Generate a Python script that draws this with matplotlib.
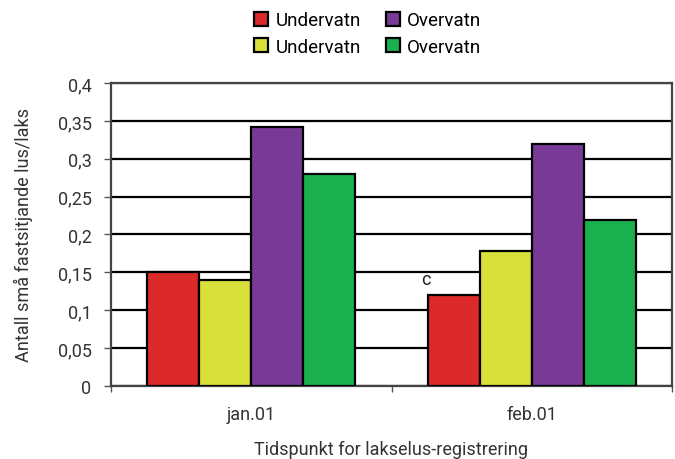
import matplotlib
matplotlib.use("Agg")
import matplotlib.pyplot as plt
import numpy as np
from matplotlib.ticker import FuncFormatter, FixedLocator

plt.rcParams['font.family'] = ['Roboto', 'DejaVu Sans']

categories = ["jan.01", "feb.01"]
series_names = ["Undervatn", "Undervatn", "Overvatn", "Overvatn"]
red_vals = [0.15, 0.12]
yellow_vals = [0.14, 0.178]
purple_vals = [0.342, 0.32]
green_vals = [0.28, 0.219]
colors = ["#DC2A2A", "#D9E03A", "#783A96", "#1BB04E"]
annotation_text = "c"

fig = plt.figure(figsize=(6.75, 4.6), dpi=100)
ax = fig.add_axes([0.1644, 0.1587, 0.8312, 0.6587])

x = np.arange(len(categories))
width = 0.185
all_vals = [red_vals, yellow_vals, purple_vals, green_vals]
handles = []
for i, (vals, c, name) in enumerate(zip(all_vals, colors, series_names)):
    b = ax.bar(x + (i - 1.5) * width, vals, width, color=c, edgecolor="black",
               linewidth=1.6, label=name, zorder=3)
    handles.append(b)

ax.set_xlim(-0.5, 1.5)
ax.set_ylim(0, 0.4)
ax.yaxis.set_major_locator(FixedLocator(np.arange(0, 0.401, 0.05)))
ax.yaxis.set_major_formatter(FuncFormatter(lambda v, p: ("%g" % round(v, 2)).replace(".", ",")))
ax.yaxis.grid(True, color="black", linewidth=1.6, zorder=0)
ax.set_axisbelow(True)

ax.set_xticks([-0.5, 0.5, 1.5])
ax.set_xticklabels([])
ax.set_xticks(x, minor=True)
ax.set_xticklabels(categories, minor=True, fontsize=13, color="#333333")
ax.tick_params(axis="x", which="minor", length=0, pad=14)
ax.tick_params(axis="x", which="major", length=4, width=1, color="#555555")
ax.tick_params(axis="y", length=5, width=1, color="#555555", labelsize=13, labelcolor="#333333", pad=9)

for s in ax.spines.values():
    s.set_color("#444444")
    s.set_linewidth(1.6)

ax.set_ylabel("Antall små fastsitjande lus/laks", fontsize=13, color="#333333", labelpad=18)
ax.set_xlabel("Tidspunkt for lakselus-registrering", fontsize=13, color="#333333", labelpad=12)

ax.annotate(annotation_text, xy=(x[1] - 1.5 * width, red_vals[1]), xytext=(-20, 5),
            textcoords="offset points", fontsize=13, color="#222222", ha="center", va="bottom")

fig.legend(handles=handles, labels=series_names, ncol=2, loc="upper center",
           bbox_to_anchor=(0.545, 1.01), frameon=False, fontsize=13.5,
           handlelength=0.75, handleheight=0.75, handletextpad=0.4, columnspacing=1.3,
           labelspacing=0.45)

fig.savefig("out.png", dpi=100)
